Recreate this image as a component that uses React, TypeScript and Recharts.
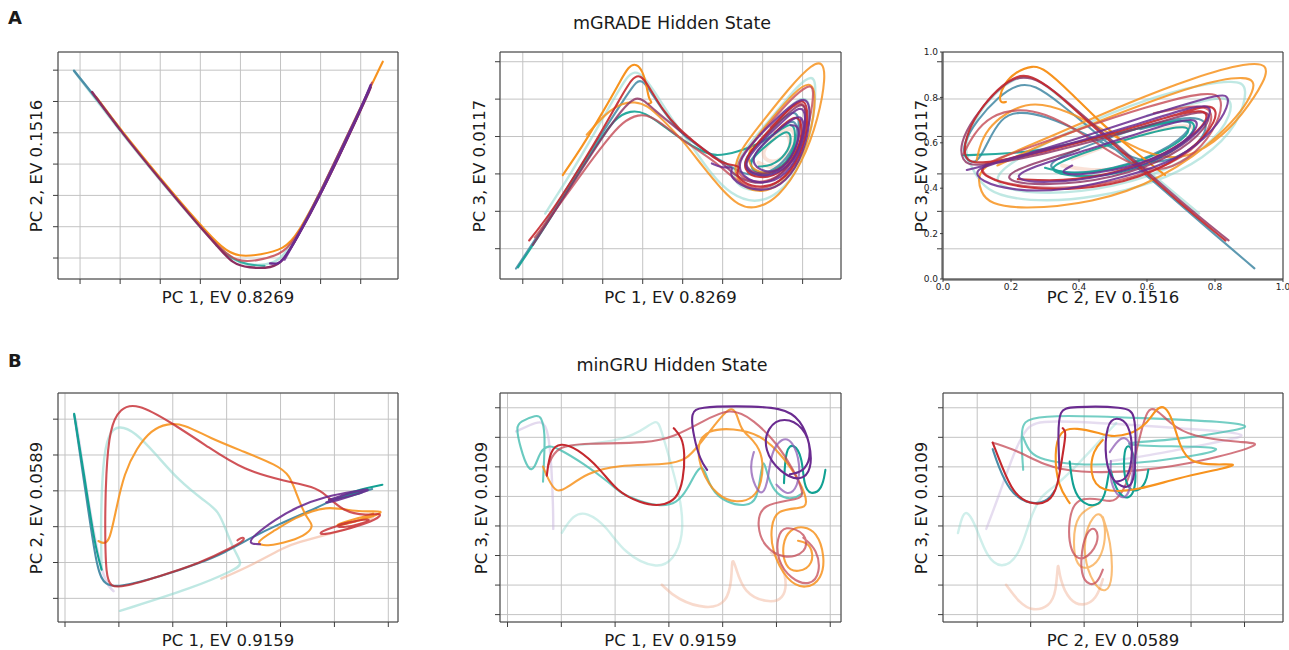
import React from 'react'
import { LineChart, Line, XAxis, YAxis, CartesianGrid, ReferenceLine } from 'recharts'

type Pt = [number, number]

// ---------- unlabelled PC tick positions (grid units) ----------
const a1XTicks = [0, 1, 2, 3, 4, 5, 6, 7]
const a1YTicks = [0, 1, 2, 3, 4, 5, 6]
const a2XTicks = [0, 1, 2, 3, 4, 5, 6, 7]
const a2YTicks = [0, 1, 2, 3, 4, 5]
// panel A3 is drawn on the stray 0..1 axes, PC ticks expressed in that frame
const a3XTicks = [0.092, 0.229, 0.367, 0.504, 0.641, 0.779, 0.916]
const a3YTicks = [0.133, 0.298, 0.463, 0.628, 0.793, 0.957]
const a3UnitTicks = [0, 0.2, 0.4, 0.6, 0.8, 1]
const b1XTicks = [0, 1, 2, 3, 4, 5, 6]
const b1YTicks = [0, 1, 2, 3, 4, 5]
const b2XTicks = [0, 1, 2, 3, 4, 5, 6]
const b2YTicks = [0, 1, 2, 3, 4, 5, 6, 7]
const b3XTicks = [0, 1, 2, 3, 4, 5]
const b3YTicks = [0, 1, 2, 3, 4, 5, 6, 7]

// ---------- A1: mGRADE, PC1 vs PC2 ----------
const a1LightTeal: Pt[] = [[-0.15, 5.98], [1, 4.05], [2, 2.48], [3, 0.97], [3.5, 0.3], [3.85, -0.1], [4.3, -0.25], [4.8, -0.2], [5.1, 0.1], [5.35, 0.6], [6, 2.05], [7, 4.75], [7.2, 5.3]]
const a1Steel: Pt[] = [[-0.15, 5.98], [0.5, 4.95], [1, 4.1]]
const a1Maroon: Pt[] = [[0.3, 5.3], [1, 4.07], [2, 2.5], [3, 0.98], [3.45, 0.35], [3.8, -0.18], [4.2, -0.32], [4.8, -0.32], [5.05, -0.12], [5.35, 0.5], [6, 2.0], [7, 4.72], [7.25, 5.45]]
const a1Orange: Pt[] = [[0.4, 5.15], [1, 4.12], [2, 2.55], [3, 1.05], [3.55, 0.3], [3.95, 0.03], [4.5, 0.1], [5.1, 0.3], [5.4, 0.7], [6, 2.1], [7, 4.82], [7.55, 6.27]]
const a1Red: Pt[] = [[3.0, 1.0], [3.5, 0.3], [3.9, -0.12], [4.4, -0.1], [5.0, 0.12], [5.3, 0.45], [6, 2.0], [7, 4.7], [7.28, 5.6]]
const a1Teal: Pt[] = [[3.4, 0.4], [3.8, -0.05], [4.2, -0.22], [4.6, -0.25]]
const a1Purple: Pt[] = [[4.74, -0.17], [4.95, -0.2], [5.1, 0.0], [5.4, 0.62], [6, 2.02], [7, 4.73], [7.25, 5.53]]
const a1Purple2: Pt[] = [[5.1, -0.05], [5.45, 0.75], [6, 2.1], [7, 4.8], [7.22, 5.4]]

// ---------- A2: mGRADE, PC1 vs PC3 ----------
const a2Steel: Pt[] = [[-0.17, -0.53], [0.5, 0.55], [1.0, 1.45], [1.6, 2.45], [2.2, 3.45], [2.6, 4.1], [2.85, 4.5], [3.0, 4.5], [3.2, 4.2], [3.5, 3.7], [3.9, 3.15], [4.3, 2.8], [4.8, 2.45], [5.2, 2.2], [5.5, 2.0], [5.9, 1.95], [6.4, 2.15], [6.8, 2.7], [6.95, 3.4], [6.8, 3.75], [6.4, 3.4], [5.9, 2.85], [5.5, 2.35], [5.6, 2.05], [6.1, 1.9], [6.6, 2.2], [6.9, 2.9], [6.85, 3.5], [6.5, 3.3], [6.0, 2.8], [5.7, 2.35]]
const a2Teal: Pt[] = [[-0.12, -0.5], [0.6, 0.65], [1.2, 1.7], [1.8, 2.7], [2.3, 3.5], [2.7, 3.7], [3.05, 3.65], [3.5, 3.3], [4.0, 2.9], [4.4, 2.65], [4.8, 2.45], [5.4, 2.6], [5.9, 2.8], [6.3, 3.05], [6.75, 3.45], [6.85, 3.0], [6.7, 2.4], [6.3, 2.05], [5.9, 2.0], [5.65, 2.2], [5.8, 2.5], [6.2, 2.85], [6.6, 3.2], [6.75, 3.0], [6.6, 2.5], [6.2, 2.2], [5.9, 2.2]]
const a2LightTeal: Pt[] = [[0.56, 0.94], [1.2, 2.0], [1.8, 3.1], [2.3, 4.05], [2.6, 4.6], [2.8, 4.75], [3.0, 4.65], [3.3, 4.2], [3.7, 3.5], [4.2, 2.8], [4.7, 2.0], [5.2, 1.45], [5.8, 1.2], [6.4, 1.45], [6.9, 2.1], [7.25, 3.2], [7.35, 4.4], [7.25, 4.65], [6.9, 4.4], [6.3, 3.6], [5.7, 2.85], [5.25, 2.2], [5.3, 1.7], [5.8, 1.5], [6.4, 1.7], [6.9, 2.4], [7.15, 3.3], [7.2, 4.0], [6.9, 4.05], [6.4, 3.5]]
const a2Red: Pt[] = [[0.16, 0.22], [0.7, 0.95], [1.3, 1.95], [1.9, 3.0], [2.4, 3.95], [2.75, 4.6], [2.95, 4.65], [3.15, 4.35], [3.5, 3.7], [3.9, 3.2], [4.3, 2.85], [4.8, 2.4], [5.1, 2.25], [5.5, 2.2], [5.3, 2.05], [5.5, 1.75], [6.0, 1.6], [6.6, 1.85], [7.05, 2.7], [7.15, 3.6], [7.05, 4.05], [6.7, 3.8], [6.1, 3.1], [5.6, 2.5], [5.5, 2.1], [5.9, 1.85], [6.5, 2.0], [6.95, 2.7], [7.0, 3.4], [6.8, 3.6], [6.3, 3.1]]
const a2Rose: Pt[] = [[0.3, 0.3], [0.9, 1.15], [1.5, 2.05], [2.1, 2.9], [2.5, 3.4], [2.9, 3.6], [3.2, 3.55], [3.6, 3.25], [4.0, 2.9], [4.5, 2.55], [4.9, 2.25], [5.3, 1.85], [5.8, 1.55], [6.4, 1.7], [6.95, 2.45], [7.2, 3.5], [7.3, 4.3], [7.15, 4.4], [6.7, 4.0], [6.1, 3.25], [5.5, 2.55], [5.3, 2.1], [5.6, 1.8], [6.2, 1.75], [6.8, 2.3], [7.1, 3.2], [7.1, 3.9], [6.8, 3.9], [6.2, 3.25]]
const a2Maroon: Pt[] = [[0.25, 0.1], [0.8, 1.0], [1.4, 2.0], [2.0, 3.0], [2.5, 3.75], [2.8, 4.05], [3.0, 4.0], [3.3, 3.7], [3.7, 3.35], [4.1, 3.0], [4.6, 2.6], [5.0, 2.3], [5.3, 1.95], [5.8, 1.7], [6.4, 1.85], [6.9, 2.55], [7.1, 3.5], [7.05, 3.95], [6.7, 3.7], [6.1, 3.05], [5.6, 2.5], [5.55, 2.15], [5.95, 1.95], [6.5, 2.1], [6.9, 2.75], [6.95, 3.45]]
const a2Orange1: Pt[] = [[1.0, 1.97], [1.5, 2.75], [2.0, 3.65], [2.4, 4.4], [2.65, 4.9], [2.85, 4.95], [3.0, 4.75], [3.1, 4.35], [3.15, 4.0], [3.25, 3.9], [3.15, 3.88]]
const a2Orange2: Pt[] = [[1.6, 3.05], [2.1, 3.65], [2.5, 3.9], [2.8, 3.93], [3.1, 3.85], [3.5, 3.45], [4.0, 2.9], [4.5, 2.2], [5.0, 1.55], [5.4, 1.15], [5.8, 1.05], [6.4, 1.35], [7.0, 2.3], [7.4, 3.5], [7.58, 4.6], [7.5, 5.0], [7.25, 4.95], [6.7, 4.35], [6.0, 3.4], [5.4, 2.6], [5.25, 2.0], [5.6, 1.55], [6.2, 1.5], [6.8, 2.05], [7.2, 3.0], [7.35, 4.1], [7.2, 4.5], [6.8, 4.2], [6.2, 3.45], [5.7, 2.8], [5.6, 2.3], [5.9, 2.0], [6.4, 2.05], [6.9, 2.6], [7.1, 3.4]]
const a2Purple: Pt[] = [[4.73, 2.28], [5.0, 2.15], [5.3, 2.2], [5.15, 2.0], [5.4, 1.7], [6.0, 1.5], [6.6, 1.75], [7.05, 2.6], [7.2, 3.5], [7.15, 4.0], [6.9, 4.0], [6.4, 3.55], [5.8, 2.9], [5.35, 2.3], [5.5, 1.9], [6.0, 1.7], [6.6, 1.95], [7.0, 2.7], [7.1, 3.6], [6.95, 3.85], [6.5, 3.4], [5.9, 2.8], [5.5, 2.25], [5.7, 2.0], [6.2, 1.9], [6.8, 2.3], [7.05, 3.1], [7.0, 3.6], [6.7, 3.45], [6.1, 2.9], [5.7, 2.45], [5.85, 2.1], [6.4, 2.0], [6.85, 2.6], [6.95, 3.3], [6.7, 3.3]]
const a2Peach: Pt[] = [[5.9, 2.3], [6.3, 2.1], [6.7, 2.4], [6.85, 3.0], [6.7, 3.3], [6.3, 3.0], [5.95, 2.6], [6.1, 2.3], [6.5, 2.35], [6.75, 2.8], [6.6, 3.1]]

// ---------- A3: mGRADE, PC2 vs PC3 (0..1 frame) ----------
const a3Steel: Pt[] = [[0.916, 0.047], [0.78, 0.22], [0.62, 0.43], [0.46, 0.63], [0.34, 0.78], [0.27, 0.855], [0.22, 0.86], [0.16, 0.8], [0.1, 0.7], [0.06, 0.6], [0.06, 0.53], [0.1, 0.5], [0.13, 0.6], [0.17, 0.71], [0.22, 0.74], [0.3, 0.72], [0.42, 0.64], [0.53, 0.55], [0.62, 0.5], [0.72, 0.55], [0.78, 0.65], [0.77, 0.72], [0.65, 0.7], [0.5, 0.63], [0.36, 0.55], [0.3, 0.5], [0.35, 0.46], [0.5, 0.48], [0.65, 0.56], [0.74, 0.67], [0.72, 0.71], [0.58, 0.66]]
const a3Teal: Pt[] = [[0.06, 0.545], [0.15, 0.55], [0.27, 0.56], [0.45, 0.62], [0.62, 0.68], [0.73, 0.71], [0.75, 0.66], [0.68, 0.56], [0.55, 0.47], [0.42, 0.445], [0.31, 0.47], [0.33, 0.51], [0.46, 0.58], [0.62, 0.65], [0.72, 0.68], [0.73, 0.64], [0.64, 0.55], [0.5, 0.48], [0.38, 0.46], [0.3, 0.49]]
const a3LightTeal: Pt[] = [[0.753, 0.289], [0.6, 0.48], [0.45, 0.67], [0.33, 0.82], [0.27, 0.89], [0.22, 0.895], [0.15, 0.82], [0.09, 0.7], [0.06, 0.58], [0.08, 0.5], [0.12, 0.4], [0.18, 0.36], [0.3, 0.34], [0.45, 0.36], [0.62, 0.42], [0.77, 0.53], [0.87, 0.68], [0.9, 0.85], [0.86, 0.88], [0.7, 0.84], [0.5, 0.74], [0.3, 0.6], [0.15, 0.47], [0.16, 0.4], [0.3, 0.37], [0.5, 0.4], [0.7, 0.5], [0.83, 0.65], [0.86, 0.8], [0.8, 0.8], [0.6, 0.72]]
const a3Red: Pt[] = [[0.831, 0.169], [0.7, 0.33], [0.55, 0.53], [0.42, 0.7], [0.32, 0.84], [0.26, 0.895], [0.22, 0.9], [0.16, 0.84], [0.1, 0.73], [0.065, 0.62], [0.06, 0.53], [0.1, 0.5], [0.3, 0.56], [0.5, 0.64], [0.7, 0.73], [0.8, 0.78], [0.81, 0.7], [0.73, 0.56], [0.58, 0.44], [0.4, 0.39], [0.22, 0.4], [0.12, 0.45], [0.1, 0.5], [0.25, 0.55], [0.45, 0.62], [0.65, 0.71], [0.78, 0.76], [0.78, 0.68], [0.66, 0.55], [0.5, 0.46], [0.35, 0.43], [0.22, 0.44]]
const a3Rose: Pt[] = [[0.06, 0.55], [0.09, 0.64], [0.14, 0.72], [0.22, 0.752], [0.3, 0.73], [0.39, 0.66], [0.48, 0.57], [0.56, 0.5], [0.63, 0.47], [0.72, 0.52], [0.8, 0.65], [0.83, 0.8], [0.78, 0.83], [0.6, 0.76], [0.4, 0.66], [0.2, 0.55], [0.1, 0.5], [0.13, 0.44], [0.25, 0.4], [0.42, 0.4], [0.6, 0.46], [0.74, 0.56], [0.8, 0.7], [0.78, 0.78], [0.62, 0.73]]
const a3Maroon: Pt[] = [[0.84, 0.17], [0.7, 0.34], [0.55, 0.54], [0.42, 0.71], [0.32, 0.84], [0.26, 0.89], [0.21, 0.89], [0.15, 0.82], [0.09, 0.71], [0.05, 0.6], [0.055, 0.52], [0.09, 0.49], [0.3, 0.55], [0.5, 0.63], [0.7, 0.72], [0.79, 0.75], [0.78, 0.67], [0.68, 0.54], [0.5, 0.44], [0.3, 0.41], [0.18, 0.43], [0.2, 0.48], [0.4, 0.57]]
const a3Orange1: Pt[] = [[0.653, 0.458], [0.55, 0.576], [0.46, 0.693], [0.373, 0.825], [0.3, 0.925], [0.265, 0.943], [0.21, 0.91], [0.18, 0.86], [0.165, 0.8], [0.17, 0.775], [0.185, 0.78]]
const a3Orange2: Pt[] = [[0.099, 0.524], [0.11, 0.6], [0.14, 0.68], [0.2, 0.745], [0.266, 0.781], [0.364, 0.744], [0.49, 0.642], [0.59, 0.555], [0.7, 0.52], [0.8, 0.6], [0.88, 0.72], [0.95, 0.88], [0.955, 0.945], [0.9, 0.955], [0.74, 0.89], [0.54, 0.774], [0.34, 0.642], [0.15, 0.524], [0.1, 0.47], [0.11, 0.38], [0.14, 0.33], [0.23, 0.307], [0.44, 0.333], [0.64, 0.436], [0.83, 0.64], [0.93, 0.85], [0.9, 0.9], [0.75, 0.86], [0.5, 0.72], [0.3, 0.6], [0.16, 0.5]]
const a3Purple: Pt[] = [[0.07, 0.48], [0.2, 0.53], [0.4, 0.62], [0.6, 0.72], [0.78, 0.8], [0.84, 0.82], [0.84, 0.76], [0.8, 0.66], [0.7, 0.53], [0.54, 0.45], [0.35, 0.385], [0.2, 0.39], [0.11, 0.43], [0.09, 0.48], [0.15, 0.51], [0.35, 0.585], [0.55, 0.67], [0.75, 0.77], [0.8, 0.76], [0.76, 0.65], [0.65, 0.53], [0.48, 0.45], [0.3, 0.42], [0.2, 0.44], [0.25, 0.49], [0.45, 0.58], [0.65, 0.68], [0.76, 0.72], [0.74, 0.63], [0.62, 0.52], [0.45, 0.46], [0.33, 0.46], [0.38, 0.5]]
const a3Peach: Pt[] = [[0.35, 0.5], [0.45, 0.47], [0.6, 0.5], [0.72, 0.6], [0.76, 0.68], [0.65, 0.67], [0.5, 0.6], [0.38, 0.53]]

// ---------- B1: minGRU, PC1 vs PC2 ----------
const b1Steel: Pt[] = [[0.17, 5.12], [0.4, 2.8], [0.6, 0.7], [0.75, 0.38], [0.99, 0.3], [1.76, 0.6], [2.5, 0.98], [3.0, 1.3], [3.31, 1.58], [3.93, 2.05], [4.73, 2.56], [5.16, 2.89], [5.53, 2.98], [5.7, 3.05]]
const b1Teal: Pt[] = [[0.17, 5.15], [0.35, 3.5], [0.55, 1.5], [0.68, 0.8]]
const b1Teal2: Pt[] = [[4.9, 2.75], [5.3, 2.85], [5.6, 3.0], [5.4, 2.95], [5.1, 2.85], [5.5, 3.05], [5.89, 3.17]]
const b1Lavender: Pt[] = [[0.2, 5.0], [0.45, 2.5], [0.7, 0.5], [0.9, 0.2]]
const b1LightTeal: Pt[] = [[0.68, 0.8], [0.66, 2.0], [0.7, 3.8], [0.8, 4.6], [0.99, 4.84], [1.3, 4.65], [1.7, 4.0], [2.1, 3.3], [2.6, 2.7], [2.85, 2.45], [3.0, 1.85], [3.15, 1.3], [3.3, 0.95], [3.15, 0.8], [2.4, 0.3], [1.02, -0.35]]
const b1Peach: Pt[] = [[2.9, 0.55], [3.5, 0.95], [4.1, 1.45], [4.3, 1.55], [4.9, 1.8], [5.4, 2.0], [5.85, 2.35], [5.5, 2.2], [5.0, 2.0], [5.3, 2.15]]
const b1Red: Pt[] = [[3.2, 1.62], [3.3, 1.72], [3.35, 1.64], [3.1, 1.42], [2.5, 0.98], [1.76, 0.62], [1.05, 0.3], [0.85, 0.33], [0.76, 0.6], [0.74, 2.0], [0.76, 3.5], [0.83, 4.75], [1.02, 5.31], [1.33, 5.45], [1.95, 4.93], [2.69, 4.19], [3.31, 3.58], [4.11, 3.26], [4.61, 3.12], [4.85, 2.89], [5.16, 2.42], [5.6, 2.3], [5.9, 2.4], [5.8, 2.2], [5.3, 1.95], [4.75, 1.75], [4.7, 1.85], [5.2, 2.1], [5.7, 2.25], [5.6, 2.1], [5.1, 1.95], [5.0, 2.05], [5.4, 2.15]]
const b1Orange: Pt[] = [[0.62, 1.6], [0.72, 1.52], [0.83, 1.6], [0.95, 2.5], [1.1, 3.5], [1.33, 4.19], [1.6, 4.7], [1.9, 4.88], [2.2, 4.87], [2.69, 4.47], [3.31, 4.1], [3.93, 3.72], [4.17, 3.45], [4.3, 2.89], [4.48, 2.23], [4.62, 2.05], [4.5, 1.8], [4.2, 1.6], [3.74, 1.44], [3.5, 1.54], [3.9, 1.9], [4.24, 2.23], [4.85, 2.61], [5.4, 2.4], [5.9, 2.45], [5.85, 2.35], [5.4, 2.15], [5.0, 2.0], [5.1, 2.1], [5.6, 2.3], [5.8, 2.4], [5.5, 2.25]]
const b1Purple: Pt[] = [[3.62, 1.51], [3.4, 1.52], [3.5, 1.75], [3.9, 2.2], [4.3, 2.55], [4.85, 2.85], [5.4, 3.0], [5.7, 3.05], [5.5, 2.95], [5.0, 2.7], [4.75, 2.65], [5.1, 2.78], [5.6, 2.98], [5.65, 3.08], [5.2, 2.9], [4.9, 2.75]]

// ---------- B2: minGRU, PC1 vs PC3 ----------
const b2TealMid: Pt[] = [[0.66, 4.5], [0.68, 5.24], [0.7, 6.14], [0.63, 6.7], [0.54, 6.76], [0.23, 6.53], [0.16, 6.36], [0.23, 5.69], [0.39, 4.84], [0.51, 4.95], [0.6, 5.52], [0.76, 5.74], [0.94, 5.63], [1.41, 5.12], [1.91, 4.45], [2.09, 4.11], [2.47, 3.83], [2.84, 3.66], [3.15, 3.77], [3.34, 4.22], [3.52, 4.9], [3.65, 5.07], [3.77, 4.22], [4.08, 3.77], [4.45, 3.66], [4.64, 3.89], [4.7, 4.67], [4.76, 5.35], [4.83, 4.67], [5.01, 4.0], [5.32, 3.89], [5.48, 4.11]]
const b2Teal: Pt[] = [[5.14, 4.45], [5.17, 5.63], [5.32, 5.8], [5.48, 5.35], [5.51, 4.34], [5.63, 4.05], [5.85, 4.22], [5.91, 4.9]]
const b2Red: Pt[] = [[0.73, 4.7], [0.79, 5.57], [0.98, 5.82], [1.29, 5.63], [1.72, 4.95], [2.03, 4.17], [2.47, 3.77], [2.84, 3.66], [3.15, 3.89], [3.27, 4.56], [3.3, 5.46], [3.24, 6.02], [3.09, 6.31]]
const b2Rose: Pt[] = [[0.76, 5.07], [0.91, 5.69], [1.41, 5.8], [2.65, 5.8], [3.09, 6.02], [3.58, 6.48], [4.14, 7.04], [4.58, 6.59], [5.01, 5.8], [5.32, 4.9], [5.51, 4.11], [5.45, 3.89], [4.7, 3.77], [4.64, 2.98], [4.76, 2.31], [5.14, 1.86], [5.57, 2.08], [5.57, 2.76], [5.14, 3.04], [5.01, 2.6], [5.01, 1.86], [5.26, 1.2], [5.63, 0.96], [5.82, 1.41], [5.76, 2.2], [5.5, 2.6]]
const b2Orange: Pt[] = [[0.66, 5.01], [0.76, 4.56], [0.91, 4.11], [1.1, 4.28], [1.47, 4.79], [2.03, 5.07], [2.96, 5.07], [3.34, 5.24], [3.58, 5.8], [3.83, 6.36], [4.14, 7.09], [4.27, 6.81], [4.33, 6.25], [4.58, 5.91], [4.76, 5.35], [4.73, 4.45], [4.58, 3.94], [4.27, 3.77], [3.89, 4.0], [3.58, 4.9], [3.52, 5.8], [3.71, 6.25], [4.2, 6.31], [4.7, 6.1], [5.1, 5.4], [5.45, 4.5], [5.6, 3.7], [5.45, 3.6], [5.0, 3.55], [4.9, 3.0], [4.9, 2.2], [5.2, 1.1], [5.55, 0.85], [5.85, 1.2], [5.9, 2.0], [5.75, 2.8], [5.5, 3.0], [5.25, 2.9], [5.1, 2.4], [5.15, 1.6], [5.4, 1.4], [5.7, 1.7], [5.65, 2.4], [5.4, 2.5]]
const b2Purple: Pt[] = [[3.71, 4.9], [3.58, 5.24], [3.46, 6.02], [3.4, 6.87], [3.58, 7.02], [4.2, 7.06], [5.14, 7.02], [5.45, 6.59], [5.63, 5.8], [5.66, 4.9], [5.45, 4.5], [5.07, 4.79], [4.76, 5.57], [4.83, 6.36], [5.14, 6.7], [5.51, 6.36], [5.66, 5.57], [5.55, 4.85], [5.25, 4.75]]
const b2PurpleMid: Pt[] = [[4.58, 5.5], [4.5, 5.0], [4.6, 4.3], [4.75, 4.0], [4.85, 4.6], [4.9, 5.5], [5.1, 6.0], [5.3, 5.9], [5.45, 5.1], [5.4, 4.3], [5.2, 4.0], [5.0, 4.4]]
const b2Lavender: Pt[] = [[0.16, 6.2], [0.4, 6.4], [0.65, 6.6], [0.76, 6.2], [0.82, 5.0], [0.85, 3.5], [0.85, 2.9]]
const b2LightTeal: Pt[] = [[1.01, 2.77], [1.22, 3.38], [1.47, 3.49], [1.85, 2.98], [2.16, 2.08], [2.78, 1.52], [3.09, 1.86], [3.27, 2.65], [3.24, 3.77], [3.02, 5.24], [2.84, 6.36], [2.78, 6.59], [2.59, 6.36], [2.22, 5.91], [1.1, 5.69]]
const b2Peach: Pt[] = [[2.87, 1.01], [3.15, 0.51], [3.71, 0.17], [4.08, 0.39], [4.17, 1.18], [4.17, 1.97], [4.24, 1.63], [4.39, 0.73], [4.83, 0.39], [5.14, 0.51], [5.2, 1.18], [5.05, 1.9], [4.9, 2.1]]

// ---------- B3: minGRU, PC2 vs PC3 ----------
const b3Red: Pt[] = [[0.29, 5.82], [0.45, 5.07], [0.67, 4.11], [0.98, 3.72], [1.35, 3.77], [1.51, 4.34], [1.6, 5.46], [1.67, 6.19], [1.6, 6.31]]
const b3Steel: Pt[] = [[0.29, 5.6], [0.4, 5.0], [0.6, 4.2], [0.9, 3.75], [1.3, 3.78], [1.45, 4.2]]
const b3Rose: Pt[] = [[0.29, 5.82], [0.79, 5.52], [1.23, 5.07], [1.85, 4.79], [3.1, 4.84], [4.35, 5.24], [5.41, 5.8], [4.98, 5.82], [3.98, 6.02], [3.6, 6.48], [3.32, 7.02], [3.18, 6.93], [3.07, 6.25], [2.85, 4.56], [2.6, 3.77], [2.35, 3.89], [1.85, 4.0], [1.7, 3.21], [1.73, 2.08], [1.98, 1.75], [2.29, 2.42], [2.23, 2.98], [2.04, 2.87], [1.92, 1.86], [1.98, 1.07], [2.23, 0.96], [2.35, 1.52]]
const b3TealMid: Pt[] = [[0.86, 4.9], [0.8, 6.42], [0.98, 6.65], [1.54, 6.76], [3.1, 6.65], [4.66, 6.53], [5.13, 6.38], [4.85, 6.25], [3.73, 5.91], [2.6, 5.8], [3.1, 5.69], [4.85, 5.69], [4.04, 5.35], [2.79, 5.07], [1.73, 5.07], [1.23, 5.24], [0.98, 5.46], [0.86, 6.0]]
const b3Teal: Pt[] = [[1.73, 5.18], [1.79, 4.22], [1.98, 3.72], [2.29, 3.66], [2.42, 4.17], [2.48, 5.18], [2.54, 4.45], [2.73, 3.89], [2.92, 4.0], [2.98, 4.67], [2.92, 5.52], [2.82, 5.8], [2.73, 5.46], [2.76, 4.34], [2.98, 4.11], [3.16, 4.45], [3.2, 4.9]]
const b3Orange: Pt[] = [[1.73, 3.77], [1.51, 4.34], [1.44, 5.46], [1.54, 6.25], [1.85, 6.33], [2.29, 6.14], [2.48, 6.02], [2.85, 6.08], [3.16, 6.42], [3.35, 6.98], [3.51, 7.09], [3.66, 6.59], [3.79, 5.69], [3.98, 5.12], [4.48, 5.07], [4.85, 5.1], [4.73, 4.99], [3.73, 4.62], [3.04, 4.22], [2.29, 4.11], [2.1, 4.79], [2.17, 5.57], [2.35, 5.91]]
const b3OrangeMid: Pt[] = [[2.29, 3.77], [1.85, 3.43], [1.79, 2.42], [1.85, 1.63], [2.1, 1.52], [2.35, 1.97], [2.42, 2.98], [2.29, 3.6], [2.04, 3.0], [1.98, 2.0], [2.17, 1.0], [2.42, 0.7], [2.54, 1.2], [2.5, 2.5], [2.35, 3.3]]
const b3Purple: Pt[] = [[1.54, 4.9], [1.51, 6.14], [1.54, 6.93], [1.73, 7.04], [2.79, 7.04], [2.95, 6.81], [2.97, 5.8], [2.95, 4.67], [2.85, 4.22], [2.54, 4.45], [2.38, 5.24], [2.42, 6.48], [2.6, 6.7], [2.85, 6.48], [2.92, 5.46], [2.82, 4.56], [2.6, 4.5]]
const b3PurpleMid: Pt[] = [[2.48, 5.5], [2.67, 6.02], [2.85, 5.97], [2.95, 5.2], [2.85, 4.0], [2.67, 3.9], [2.48, 4.45], [2.5, 5.2]]
const b3Lavender: Pt[] = [[0.17, 2.9], [0.42, 4.1], [0.67, 5.4], [0.92, 6.4], [1.23, 6.6], [3.1, 6.4], [5.04, 6.15], [4.98, 6.0], [3.73, 5.57], [3.1, 5.35], [2.5, 5.2]]
const b3LightTeal: Pt[] = [[-0.36, 2.76], [-0.27, 3.43], [-0.17, 3.49], [-0.02, 2.98], [0.17, 1.97], [0.45, 1.52], [0.79, 1.97], [0.98, 3.21], [1.17, 4.0], [1.42, 4.28], [1.85, 5.01], [2.48, 6.25], [2.6, 6.48]]
const b3Peach: Pt[] = [[0.54, 1.01], [0.79, 0.39], [1.04, 0.11], [1.35, 0.28], [1.48, 0.73], [1.51, 1.97], [1.54, 1.18], [1.73, 0.45], [1.98, 0.28], [2.23, 0.51], [2.35, 1.2]]

// ---------- styling ----------
const TEAL = '#12a193'
const TEAL_MID = '#45bdb0'
const LIGHT_TEAL = '#8ad6cc'
const STEEL = '#4b8ea8'
const PURPLE = '#6a2b90'
const PURPLE_MID = '#8d5cb4'
const LAVENDER = '#c7b4de'
const RED = '#c4282e'
const ROSE = '#c44a55'
const ORANGE = '#f7931e'
const PEACH = '#f0ad90'
const MAROON = '#8b2d5f'

const FONT = "'DejaVu Sans', 'Liberation Sans', sans-serif"
const SPINE = '#3c3c3c'
const GRID = '#c3c3c3'

interface Trace {
  pts: Pt[]
  color: string
  opacity?: number
  width?: number
}

interface Box {
  x: number
  y: number
  w: number
  h: number
}

interface PanelProps {
  box: Box
  xDomain: [number, number]
  yDomain: [number, number]
  xTicks: number[]
  yTicks: number[]
  unitTicks?: number[]
  traces: Trace[]
  xLabel: string
  yLabel: string
  yLabelX: number
}

function Panel({ box, xDomain, yDomain, xTicks, yTicks, unitTicks, traces, xLabel, yLabel, yLabelX }: PanelProps) {
  const ML = 40
  const MT = 8
  const MR = 6
  const MB = 26
  const nAxes = unitTicks ? 2 : 1
  const blank = () => ''
  const unitFmt = (v: number) => v.toFixed(1)
  const gridId = unitTicks ? 'pc' : 0
  const tickStyle = { fontSize: 9, fill: '#222', fontFamily: FONT }

  return (
    <>
      <div style={{ position: 'absolute', left: box.x - ML, top: box.y - MT }}>
        <LineChart
          width={box.w + ML + MR}
          height={box.h + MT + MB}
          margin={{ top: MT, right: MR, bottom: MB - nAxes, left: ML - nAxes }}
        >
          <CartesianGrid xAxisId={gridId} yAxisId={gridId} stroke={GRID} strokeWidth={1} />
          <XAxis
            xAxisId={0}
            type="number"
            dataKey="x"
            domain={xDomain}
            allowDataOverflow
            ticks={unitTicks ?? xTicks}
            interval={0}
            height={1}
            tickSize={unitTicks ? 3 : 5}
            tickFormatter={unitTicks ? unitFmt : blank}
            tick={tickStyle}
            axisLine={{ stroke: SPINE }}
            tickLine={{ stroke: SPINE }}
          />
          <YAxis
            yAxisId={0}
            type="number"
            dataKey="y"
            domain={yDomain}
            allowDataOverflow
            ticks={unitTicks ?? yTicks}
            interval={0}
            width={1}
            tickSize={unitTicks ? 3 : 5}
            tickFormatter={unitTicks ? unitFmt : blank}
            tick={tickStyle}
            axisLine={{ stroke: SPINE }}
            tickLine={{ stroke: SPINE }}
          />
          {unitTicks && (
            <XAxis
              xAxisId="pc"
              type="number"
              domain={xDomain}
              allowDataOverflow
              ticks={xTicks}
              interval={0}
              height={1}
              tickSize={5}
              tickFormatter={blank}
              tick={tickStyle}
              axisLine={{ stroke: SPINE }}
              tickLine={{ stroke: SPINE }}
            />
          )}
          {unitTicks && (
            <YAxis
              yAxisId="pc"
              type="number"
              domain={yDomain}
              allowDataOverflow
              ticks={yTicks}
              interval={0}
              width={1}
              tickSize={5}
              tickFormatter={blank}
              tick={tickStyle}
              axisLine={{ stroke: SPINE }}
              tickLine={{ stroke: SPINE }}
            />
          )}
          {traces.map((t, i) => (
            <Line
              key={i}
              data={t.pts.map(([x, y]) => ({ x, y }))}
              dataKey="y"
              type="basis"
              stroke={t.color}
              strokeOpacity={t.opacity ?? 1}
              strokeWidth={t.width ?? 2.1}
              strokeLinecap="round"
              dot={false}
              activeDot={false}
              isAnimationActive={false}
            />
          ))}
          <ReferenceLine x={xDomain[1]} stroke={SPINE} ifOverflow="visible" />
          <ReferenceLine y={yDomain[1]} stroke={SPINE} ifOverflow="visible" />
        </LineChart>
      </div>
      <div
        style={{
          position: 'absolute',
          left: box.x + box.w / 2,
          top: box.y + box.h + 10,
          transform: 'translateX(-50%)',
          fontSize: 16.5,
          lineHeight: '18px',
          whiteSpace: 'nowrap',
        }}
      >
        {xLabel}
      </div>
      <div
        style={{
          position: 'absolute',
          left: yLabelX,
          top: box.y + box.h / 2,
          transform: 'translate(-50%, -50%) rotate(-90deg)',
          fontSize: 16.5,
          lineHeight: '18px',
          whiteSpace: 'nowrap',
        }}
      >
        {yLabel}
      </div>
    </>
  )
}

const a1Traces: Trace[] = [
  { pts: a1LightTeal, color: LIGHT_TEAL, opacity: 0.6, width: 2.6 },
  { pts: a1Teal, color: TEAL, opacity: 0.8 },
  { pts: a1Steel, color: STEEL, width: 2.4 },
  { pts: a1Orange, color: ORANGE },
  { pts: a1Red, color: ROSE, opacity: 0.85 },
  { pts: a1Maroon, color: MAROON, width: 2.4 },
  { pts: a1Purple2, color: PURPLE, opacity: 0.8, width: 2.4 },
  { pts: a1Purple, color: PURPLE, width: 2.4 },
]

const a2Traces: Trace[] = [
  { pts: a2Peach, color: PEACH, opacity: 0.35, width: 4 },
  { pts: a2LightTeal, color: LIGHT_TEAL, opacity: 0.55, width: 2.4 },
  { pts: a2Steel, color: STEEL, opacity: 0.9 },
  { pts: a2Teal, color: TEAL, opacity: 0.9 },
  { pts: a2Orange1, color: ORANGE },
  { pts: a2Orange2, color: ORANGE, opacity: 0.85 },
  { pts: a2Rose, color: ROSE, opacity: 0.8 },
  { pts: a2Maroon, color: MAROON, opacity: 0.8 },
  { pts: a2Red, color: RED, opacity: 0.9 },
  { pts: a2Purple, color: PURPLE, opacity: 0.85 },
]

const a3Traces: Trace[] = [
  { pts: a3Peach, color: PEACH, opacity: 0.35, width: 4 },
  { pts: a3LightTeal, color: LIGHT_TEAL, opacity: 0.55, width: 2.4 },
  { pts: a3Steel, color: STEEL, opacity: 0.9 },
  { pts: a3Teal, color: TEAL, opacity: 0.9 },
  { pts: a3Orange1, color: ORANGE },
  { pts: a3Orange2, color: ORANGE, opacity: 0.85 },
  { pts: a3Rose, color: ROSE, opacity: 0.8 },
  { pts: a3Maroon, color: MAROON, opacity: 0.8 },
  { pts: a3Red, color: RED, opacity: 0.9 },
  { pts: a3Purple, color: PURPLE, opacity: 0.85 },
]

const b1Traces: Trace[] = [
  { pts: b1Lavender, color: LAVENDER, opacity: 0.5, width: 2.6 },
  { pts: b1LightTeal, color: LIGHT_TEAL, opacity: 0.55, width: 2.4 },
  { pts: b1Peach, color: PEACH, opacity: 0.55, width: 2.4 },
  { pts: b1Steel, color: STEEL },
  { pts: b1Teal, color: TEAL },
  { pts: b1Teal2, color: TEAL },
  { pts: b1Orange, color: ORANGE, opacity: 0.9 },
  { pts: b1Red, color: RED, opacity: 0.8 },
  { pts: b1Purple, color: PURPLE, opacity: 0.9 },
]

const b2Traces: Trace[] = [
  { pts: b2Lavender, color: LAVENDER, opacity: 0.5, width: 2.4 },
  { pts: b2LightTeal, color: LIGHT_TEAL, opacity: 0.4, width: 2.4 },
  { pts: b2Peach, color: PEACH, opacity: 0.45, width: 2.6 },
  { pts: b2TealMid, color: TEAL_MID, opacity: 0.8 },
  { pts: b2Teal, color: TEAL },
  { pts: b2Orange, color: ORANGE, opacity: 0.85 },
  { pts: b2Rose, color: ROSE, opacity: 0.75 },
  { pts: b2PurpleMid, color: PURPLE_MID, opacity: 0.75 },
  { pts: b2Purple, color: PURPLE },
  { pts: b2Red, color: RED },
]

const b3Traces: Trace[] = [
  { pts: b3Lavender, color: LAVENDER, opacity: 0.45, width: 2.4 },
  { pts: b3LightTeal, color: LIGHT_TEAL, opacity: 0.4, width: 2.4 },
  { pts: b3Peach, color: PEACH, opacity: 0.45, width: 2.6 },
  { pts: b3TealMid, color: TEAL_MID, opacity: 0.75 },
  { pts: b3OrangeMid, color: ORANGE, opacity: 0.6 },
  { pts: b3Rose, color: ROSE, opacity: 0.75 },
  { pts: b3Teal, color: TEAL },
  { pts: b3Orange, color: ORANGE },
  { pts: b3PurpleMid, color: PURPLE_MID, opacity: 0.75 },
  { pts: b3Purple, color: PURPLE },
  { pts: b3Steel, color: STEEL },
  { pts: b3Red, color: RED },
]

export default function App() {
  return (
    <div
      style={{
        position: 'absolute',
        left: 0,
        top: 0,
        width: 1289,
        height: 650,
        background: '#fff',
        fontFamily: FONT,
        color: '#1a1a1a',
        overflow: 'hidden',
      }}
    >
      <div style={{ position: 'absolute', left: 8, top: 8, fontSize: 18, fontWeight: 700, lineHeight: '20px' }}>A</div>
      <div style={{ position: 'absolute', left: 8, top: 351, fontSize: 18, fontWeight: 700, lineHeight: '20px' }}>B</div>
      <div style={{ position: 'absolute', left: 672, top: 13, transform: 'translateX(-50%)', fontSize: 17.5, lineHeight: '20px', whiteSpace: 'nowrap' }}>
        mGRADE Hidden State
      </div>
      <div style={{ position: 'absolute', left: 672, top: 355, transform: 'translateX(-50%)', fontSize: 17.5, lineHeight: '20px', whiteSpace: 'nowrap' }}>
        minGRU Hidden State
      </div>

      <Panel box={{ x: 58, y: 52, w: 340, h: 227 }} xDomain={[-0.55, 7.93]} yDomain={[-0.67, 6.58]} xTicks={a1XTicks} yTicks={a1YTicks} traces={a1Traces} xLabel="PC 1, EV 0.8269" yLabel="PC 2, EV 0.1516" yLabelX={37} />
      <Panel box={{ x: 500, y: 52, w: 341, h: 227 }} xDomain={[-0.57, 7.96]} yDomain={[-0.81, 5.26]} xTicks={a2XTicks} yTicks={a2YTicks} traces={a2Traces} xLabel="PC 1, EV 0.8269" yLabel="PC 3, EV 0.0117" yLabelX={480} />
      <Panel box={{ x: 943, y: 52, w: 340, h: 227 }} xDomain={[0, 1]} yDomain={[0, 1]} xTicks={a3XTicks} yTicks={a3YTicks} unitTicks={a3UnitTicks} traces={a3Traces} xLabel="PC 2, EV 0.1516" yLabel="PC 3, EV 0.0117" yLabelX={922} />
      <Panel box={{ x: 58, y: 393, w: 340, h: 229 }} xDomain={[-0.13, 6.18]} yDomain={[-0.66, 5.73]} xTicks={b1XTicks} yTicks={b1YTicks} traces={b1Traces} xLabel="PC 1, EV 0.9159" yLabel="PC 2, EV 0.0589" yLabelX={37} />
      <Panel box={{ x: 500, y: 393, w: 341, h: 229 }} xDomain={[-0.14, 6.2]} yDomain={[-0.25, 7.5]} xTicks={b2XTicks} yTicks={b2YTicks} traces={b2Traces} xLabel="PC 1, EV 0.9159" yLabel="PC 3, EV 0.0109" yLabelX={482} />
      <Panel box={{ x: 943, y: 393, w: 340, h: 229 }} xDomain={[-0.64, 5.72]} yDomain={[-0.25, 7.5]} xTicks={b3XTicks} yTicks={b3YTicks} traces={b3Traces} xLabel="PC 2, EV 0.0589" yLabel="PC 3, EV 0.0109" yLabelX={922} />
    </div>
  )
}
